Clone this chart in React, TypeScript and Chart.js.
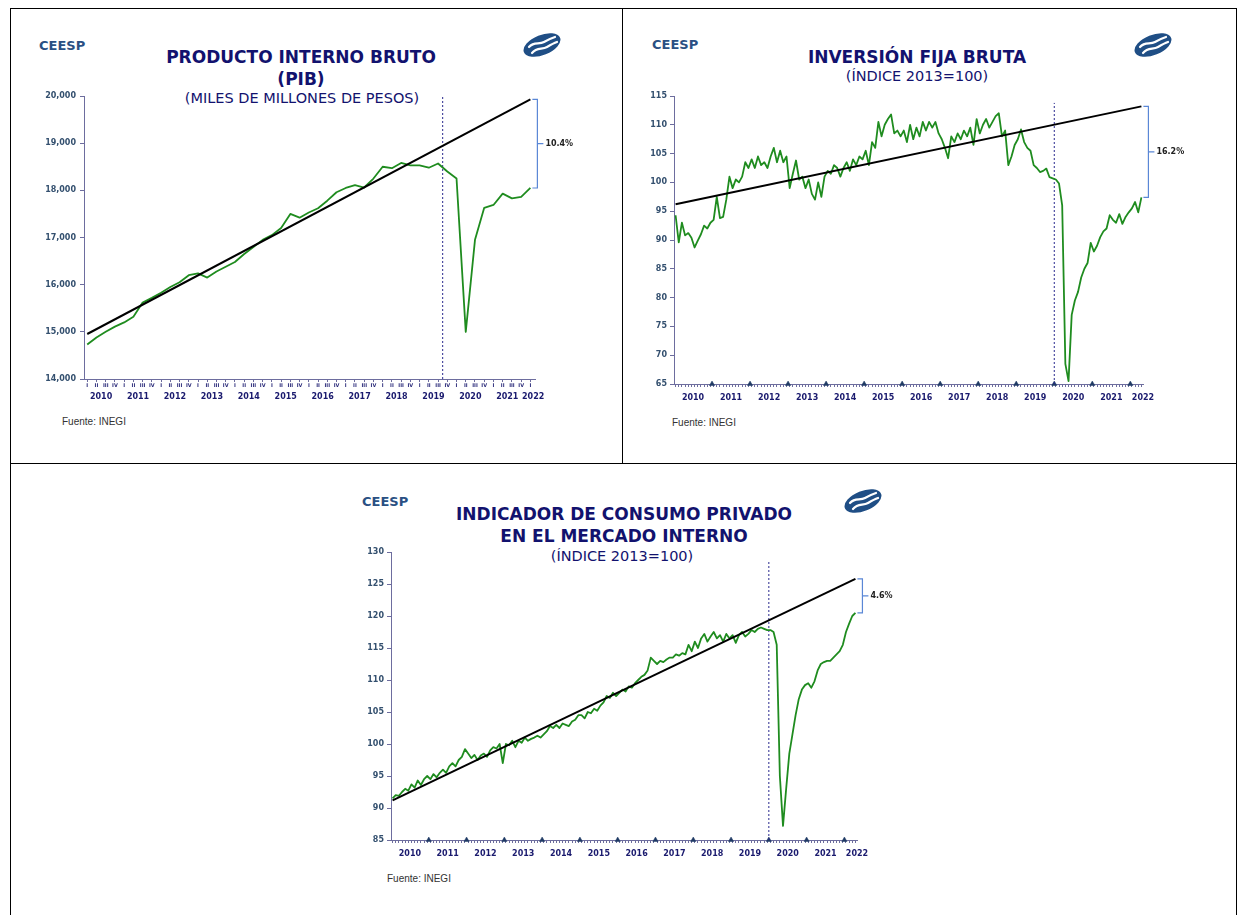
import React, { useEffect, useRef } from "react";
import { Chart, registerables } from "chart.js";

Chart.register(...registerables);

// ================= DATA =================
const quarterNames = ["I", "II", "III", "IV"];
const yearLabels = ["2010", "2011", "2012", "2013", "2014", "2015", "2016", "2017", "2018", "2019", "2020", "2021", "2022"];

// PIB trimestral, miles de millones de pesos (2010-I ... 2022-I)
const pibValues = [
  14730, 14880, 15000, 15110,
  15200, 15320, 15620, 15720,
  15830, 15950, 16050, 16200,
  16240, 16150, 16280, 16380,
  16480, 16650, 16800, 16950,
  17050, 17200, 17500, 17420,
  17530, 17620, 17780, 17960,
  18050, 18110, 18060, 18250,
  18500, 18470, 18580, 18530,
  18530, 18480, 18570, 18400,
  18250, 15000, 16950, 17630,
  17690, 17930, 17830, 17860,
  18050,
];
const pibTrend = [14954, 19930];
const pibMarker = 38.5;
const pibGap = "10.4%";

// Inversión fija bruta mensual (ene-2010 ... abr-2022)
const ifbValues = [
  94.3, 89.6, 93.0, 90.8, 91.2, 90.4, 88.7, 89.9, 91.0, 92.5, 92.0, 93.0,
  93.5, 97.5, 93.8, 94.0, 97.0, 101.0, 99.0, 100.5, 100.0, 101.0, 103.5, 102.5,
  104.0, 102.5, 104.5, 103.0, 103.5, 102.5, 104.5, 106.0, 103.5, 105.5, 103.5, 104.5,
  99.0, 101.5, 103.8, 100.5, 101.0, 99.0, 100.5, 98.0, 97.0, 100.0, 97.5, 101.0,
  102.0, 101.5, 103.0, 102.5, 101.0, 102.5, 103.5, 102.0, 104.0, 103.0, 104.5, 104.0,
  105.5, 103.0, 107.0, 106.0, 110.5, 108.0, 110.0, 111.0, 111.8, 108.5, 109.0, 108.0,
  109.0, 107.0, 110.0, 107.5, 109.5, 108.0, 110.5, 109.0, 110.5, 109.5, 110.5, 108.5,
  107.5, 106.0, 104.2, 108.0, 107.0, 108.5, 107.5, 109.0, 108.0, 109.5, 106.5, 111.0,
  108.5, 110.0, 111.0, 109.5, 110.5, 111.5, 112.0, 108.0, 109.0, 103.0, 104.5, 106.5,
  107.5, 109.2, 107.0, 106.0, 105.5, 103.0, 102.5, 101.8, 102.0, 102.4, 100.9, 100.7,
  100.5, 99.8, 96.0, 68.5, 65.5, 77.0, 79.5, 81.0, 83.5, 85.0, 86.0, 89.5,
  88.0, 89.0, 90.5, 91.5, 92.0, 94.3, 93.5, 93.0, 94.5, 92.8, 94.0, 94.8,
  95.5, 96.6, 94.8, 97.4,
];
const ifbTrend = [96.2, 113.2];
const ifbMarkerTop = 113.8;
const ifbGap = "16.2%";

// Indicador de consumo privado mensual (ene-2010 ... abr-2022)
const consumoValues = [
  91.5, 92.0, 91.9, 92.5, 93.0, 92.7, 93.7, 93.2, 94.3, 93.6, 94.5, 95.0,
  94.5, 95.3, 94.8, 95.5, 96.0, 95.5, 96.5, 97.0, 96.5, 97.5, 98.0, 99.2,
  98.5, 97.8, 98.3, 97.5, 98.2, 98.5, 98.0, 99.0, 99.5, 99.3, 100.0, 97.0,
  100.0, 99.8, 100.5, 99.5, 100.5, 100.2, 101.0, 100.5, 100.8, 101.0, 101.3, 101.0,
  101.5, 102.0, 102.8, 102.5, 103.0, 102.5, 103.2, 103.0, 102.8, 103.5, 103.8, 104.5,
  104.5, 104.0, 105.0, 104.8, 105.5, 105.2, 106.0, 106.5, 107.5, 107.2, 108.0, 107.5,
  108.0, 108.5, 108.2, 109.0, 108.8, 109.5, 110.0, 110.5, 110.8, 111.5, 113.5, 113.0,
  112.5, 113.0, 112.8, 113.2, 113.5, 113.5, 114.0, 113.8, 114.2, 114.0, 115.5, 114.5,
  116.0, 115.0, 116.5, 117.2, 116.0, 116.8, 117.5, 116.5, 117.0, 116.0, 117.2, 116.5,
  117.0, 115.8, 117.0, 117.5, 116.8, 117.2, 117.8, 117.5, 118.0, 118.2, 118.0, 117.8,
  117.8, 117.5, 115.5, 95.0, 87.2, 93.0, 98.5, 101.5, 104.5, 107.0, 108.5, 109.2,
  109.5, 108.8, 109.8, 111.5, 112.5, 112.8, 113.0, 113.0, 113.5, 114.0, 114.5, 115.5,
  117.5, 118.8, 120.0, 120.5,
];
const consumoTrend = [91.2, 125.8];
const consumoMarkerTop = 128.6;
const consumoGap = "4.6%";

const monthlyMarker = 119.5; // límite dic-2019 / ene-2020

// ================= STYLE =================
const FONT = '"DejaVu Sans", Verdana, sans-serif';
const TITLE = "#12126E";
const CEESP_C = "#2A5083";
const GREEN = "#1F8C1F";
const AXIS = "#6D6D9E";
const YTICK = "#34506F";
const YEARC = "#1A1A6E";
const ROMAN = "#2B2B7A";
const DASH = "#2A2A8E";
const STAR = "#1F3A64";
const BRACKET = "#5A87D6";

Chart.defaults.font.family = FONT;

const gapPlugin = (label: string) => ({
  id: "gapBracket",
  afterDatasetsDraw(chart: any) {
    const t = chart.getDatasetMeta(0).data;
    const a = chart.getDatasetMeta(1).data;
    const pt = t[t.length - 1];
    const pa = a[a.length - 1];
    const ctx = chart.ctx;
    const x0 = Math.max(pt.x, pa.x) + 2;
    const xb = x0 + 5;
    const mid = (pt.y + pa.y) / 2;
    ctx.save();
    ctx.strokeStyle = BRACKET;
    ctx.lineWidth = 1.2;
    ctx.beginPath();
    ctx.moveTo(x0, pt.y);
    ctx.lineTo(xb, pt.y);
    ctx.lineTo(xb, pa.y);
    ctx.lineTo(x0, pa.y);
    ctx.moveTo(xb, mid);
    ctx.lineTo(xb + 6, mid);
    ctx.stroke();
    ctx.fillStyle = "#222";
    ctx.font = `bold 8px ${FONT}`;
    ctx.textBaseline = "middle";
    ctx.textAlign = "left";
    ctx.fillText(label, xb + 8, mid);
    ctx.restore();
  },
});

function buildConfig(p: any) {
  const n = p.values.length;
  return {
    type: "line",
    data: {
      datasets: [
        {
          data: [{ x: 0, y: p.trend[0] }, { x: n - 1, y: p.trend[1] }],
          borderColor: "#000",
          borderWidth: 2,
          pointRadius: 0,
          tension: 0,
        },
        {
          data: p.values.map((v: number, i: number) => ({ x: i, y: v })),
          borderColor: GREEN,
          borderWidth: 1.8,
          pointRadius: 0,
          tension: 0,
          borderJoinStyle: "round",
        },
        {
          data: [{ x: p.marker, y: p.yMin }, { x: p.marker, y: p.markerTop }],
          borderColor: DASH,
          borderWidth: 1,
          borderDash: [2, 2],
          pointRadius: 0,
        },
        {
          data: p.stars.map((s: number) => ({ x: s, y: p.yMin })),
          showLine: false,
          pointStyle: "triangle",
          pointRadius: 3,
          pointBackgroundColor: STAR,
          pointBorderColor: STAR,
          pointBorderWidth: 0.5,
          clip: false,
        },
      ],
    },
    options: {
      responsive: false,
      animation: false,
      devicePixelRatio: 1,
      events: [],
      layout: { padding: { top: p.padTop, right: p.padRight, left: 0, bottom: 0 } },
      plugins: { legend: { display: false }, tooltip: { enabled: false }, title: { display: false } },
      scales: {
        x: {
          type: "linear",
          position: "bottom",
          weight: 0,
          min: p.xMin,
          max: p.xMax,
          afterBuildTicks: (s: any) => {
            s.ticks = p.minorTicks.map((v: number) => ({ value: v }));
          },
          afterFit: (s: any) => {
            s.height = p.minorHeight;
          },
          ticks: {
            autoSkip: false,
            maxRotation: 0,
            minRotation: 0,
            padding: p.minorPad,
            font: { family: FONT, size: 5, weight: "bold" },
            color: ROMAN,
            callback: (_v: any, i: number) => p.minorLabel(i),
          },
          grid: { drawOnChartArea: false, drawTicks: true, tickLength: 3, color: AXIS, lineWidth: 1 },
          border: { display: true, color: AXIS, width: 1 },
        },
        xYear: {
          type: "linear",
          position: "bottom",
          weight: 1,
          min: p.xMin,
          max: p.xMax,
          afterBuildTicks: (s: any) => {
            s.ticks = p.yearTicks.map((v: number) => ({ value: v }));
          },
          afterFit: (s: any) => {
            s.height = p.yearHeight;
          },
          ticks: {
            autoSkip: false,
            maxRotation: 0,
            minRotation: 0,
            padding: p.yearPad,
            font: { family: FONT, size: 8, weight: "bold" },
            color: YEARC,
            callback: (_v: any, i: number) => yearLabels[i],
          },
          grid: { display: false, drawTicks: false },
          border: { display: false },
        },
        y: {
          type: "linear",
          position: "left",
          min: p.yMin,
          max: p.yMax,
          afterFit: (s: any) => {
            s.width = p.yWidth;
          },
          ticks: {
            stepSize: p.yStep,
            padding: p.yPad,
            font: { family: FONT, size: 8, weight: "bold" },
            color: YTICK,
            callback: p.yFormat,
          },
          grid: { drawOnChartArea: false, drawTicks: true, tickLength: 4, color: AXIS },
          border: { display: true, color: AXIS, width: 1 },
        },
      },
    },
    plugins: [gapPlugin(p.gap)],
  };
}

const monthTicks = ifbValues.map((_, i) => i);
const monthYearTicks = yearLabels.map((_, k) => (k < 12 ? 12 * k + 5.5 : ifbValues.length - 0.5));
const monthStars = yearLabels.slice(1).map((_, k) => 12 * (k + 1) - 0.5);

const pibConfig = () =>
  buildConfig({
    values: pibValues,
    trend: pibTrend,
    yMin: 14000,
    yMax: 20000,
    yStep: 1000,
    yFormat: (v: any) => Number(v).toLocaleString("en-US"),
    xMin: -0.35,
    xMax: 48.5,
    minorTicks: pibValues.map((_, i) => i),
    minorLabel: (i: number) => quarterNames[i % 4],
    minorHeight: 10,
    minorPad: 1,
    yearTicks: yearLabels.map((_, k) => (k < 12 ? 4 * k + 1.5 : 48.3)),
    yearHeight: 17,
    yearPad: 3,
    marker: pibMarker,
    markerTop: 20000,
    stars: [],
    gap: pibGap,
    yWidth: 64,
    yPad: 4,
    padTop: 10,
    padRight: 85,
  });

const ifbConfig = () =>
  buildConfig({
    values: ifbValues,
    trend: ifbTrend,
    yMin: 65,
    yMax: 115,
    yStep: 5,
    yFormat: (v: any) => String(v),
    xMin: -0.5,
    xMax: ifbValues.length - 0.5,
    minorTicks: monthTicks,
    minorLabel: () => "",
    minorHeight: 7,
    minorPad: 0,
    yearTicks: monthYearTicks,
    yearHeight: 15,
    yearPad: 2,
    marker: monthlyMarker,
    markerTop: ifbMarkerTop,
    stars: monthStars,
    gap: ifbGap,
    yWidth: 40,
    yPad: 3,
    padTop: 10,
    padRight: 91,
  });

const consumoConfig = () =>
  buildConfig({
    values: consumoValues,
    trend: consumoTrend,
    yMin: 85,
    yMax: 130,
    yStep: 5,
    yFormat: (v: any) => String(v),
    xMin: -0.5,
    xMax: consumoValues.length - 0.5,
    minorTicks: monthTicks,
    minorLabel: () => "",
    minorHeight: 7,
    minorPad: 0,
    yearTicks: monthYearTicks,
    yearHeight: 15,
    yearPad: 2,
    marker: monthlyMarker,
    markerTop: consumoMarkerTop,
    stars: monthStars,
    gap: consumoGap,
    yWidth: 41,
    yPad: 3,
    padTop: 10,
    padRight: 93,
  });

// ================= COMPONENTS =================
function ChartBox({ left, top, width, height, config }: any) {
  const ref = useRef<HTMLCanvasElement>(null);
  useEffect(() => {
    const chart = new Chart(ref.current as HTMLCanvasElement, config() as any);
    return () => chart.destroy();
  }, []);
  return (
    <canvas
      ref={ref}
      width={width}
      height={height}
      style={{ position: "absolute", left, top, width, height }}
    />
  );
}

function Logo({ left, top }: any) {
  return (
    <svg style={{ position: "absolute", left, top }} width={40} height={24} viewBox="0 0 40 24">
      <ellipse cx={20} cy={12} rx={19.5} ry={10} transform="rotate(-22 20 12)" fill="#1F4E85" />
      <path d="M7 14 C 12 8, 17 12, 22 9 S 30 5, 33 4" stroke="#fff" strokeWidth={2.2} fill="none" strokeLinecap="round" />
      <path d="M10 20 C 15 14, 20 17, 25 14 S 32 10, 35 9" stroke="#fff" strokeWidth={2.2} fill="none" strokeLinecap="round" />
    </svg>
  );
}

function Txt({ left, top, width, align, size, weight, color, lh, family, children }: any) {
  return (
    <div
      style={{
        position: "absolute",
        left,
        top,
        width,
        textAlign: align || "left",
        fontFamily: family || FONT,
        fontSize: size,
        fontWeight: weight || "normal",
        color,
        lineHeight: `${lh}px`,
        whiteSpace: "nowrap",
      }}
    >
      {children}
    </div>
  );
}

const Ceesp = ({ left, top }: any) => (
  <Txt left={left} top={top} size={13} weight="bold" color={CEESP_C} lh={13}>
    CEESP
  </Txt>
);

const Fuente = ({ left, top }: any) => (
  <Txt left={left} top={top} size={10} color="#333" lh={12} family='"Liberation Sans", Arial, sans-serif'>
    Fuente: INEGI
  </Txt>
);

const Line = ({ left, top, width, height }: any) => (
  <div style={{ position: "absolute", left, top, width, height, background: "#000" }} />
);

export default function App() {
  return (
    <div
      style={{
        position: "absolute",
        left: 0,
        top: 0,
        width: 1241,
        height: 915,
        background: "#fff",
        overflow: "hidden",
      }}
    >
      {/* frame */}
      <Line left={10} top={8} width={1227} height={1} />
      <Line left={10} top={8} width={1} height={907} />
      <Line left={1236} top={8} width={1} height={907} />
      <Line left={622} top={8} width={1} height={456} />
      <Line left={10} top={463} width={1227} height={1} />

      {/* Panel 1 */}
      <Ceesp left={39} top={38.8} />
      <Logo left={522} top={33} />
      <Txt left={101} top={45.8} width={400} align="center" size={17} weight="bold" color={TITLE} lh={22}>
        PRODUCTO INTERNO BRUTO
        <br />
        (PIB)
      </Txt>
      <Txt left={102} top={90.3} width={400} align="center" size={14.5} color={TITLE} lh={16}>
        (MILES DE MILLONES DE PESOS)
      </Txt>
      <ChartBox left={20} top={86} width={600} height={320} config={pibConfig} />
      <Fuente left={62} top={416} />

      {/* Panel 2 */}
      <Ceesp left={652} top={38.3} />
      <Logo left={1133} top={33} />
      <Txt left={717} top={46.3} width={400} align="center" size={17} weight="bold" color={TITLE} lh={22}>
        INVERSIÓN FIJA BRUTA
      </Txt>
      <Txt left={717} top={68.3} width={400} align="center" size={14.5} color={TITLE} lh={16}>
        (ÍNDICE 2013=100)
      </Txt>
      <ChartBox left={634} top={86} width={600} height={320} config={ifbConfig} />
      <Fuente left={672} top={417} />

      {/* Panel 3 */}
      <Ceesp left={362} top={495.3} />
      <Logo left={843} top={489} />
      <Txt left={424} top={502.8} width={400} align="center" size={17} weight="bold" color={TITLE} lh={22}>
        INDICADOR DE CONSUMO PRIVADO
        <br />
        EN EL MERCADO INTERNO
      </Txt>
      <Txt left={422} top={548.3} width={400} align="center" size={14.5} color={TITLE} lh={16}>
        (ÍNDICE 2013=100)
      </Txt>
      <ChartBox left={350} top={542} width={600} height={320} config={consumoConfig} />
      <Fuente left={387} top={873} />
    </div>
  );
}
